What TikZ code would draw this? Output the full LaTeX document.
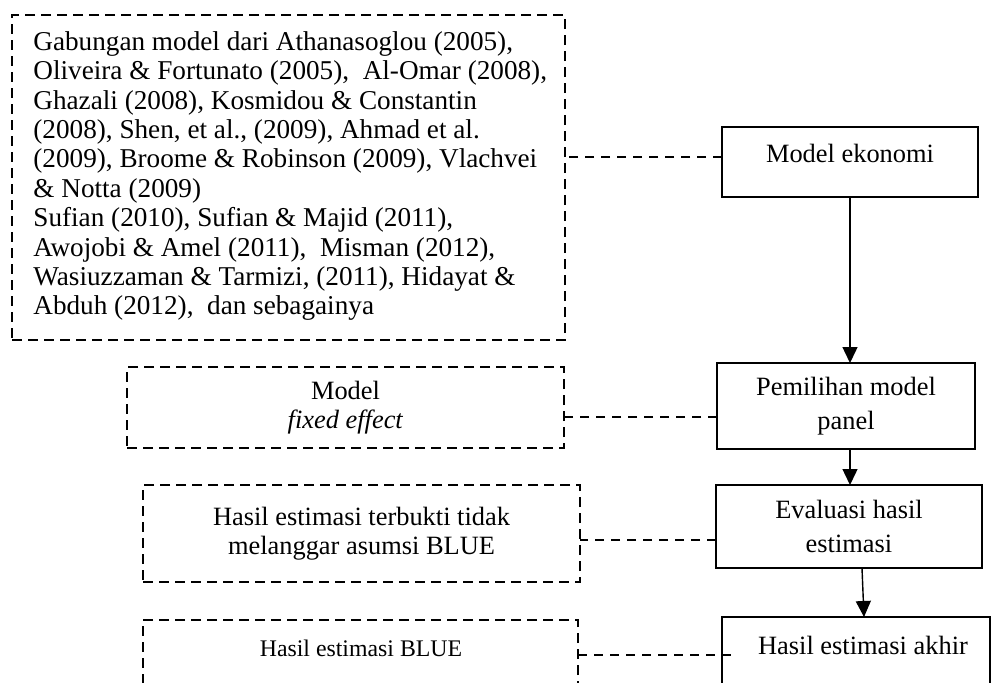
\documentclass[tikz,border=0pt]{standalone}
\usepackage{fontspec}
\setmainfont{Liberation Serif}
\usetikzlibrary{arrows.meta}

\begin{document}
\begin{tikzpicture}[
   x=0.5pt,y=-0.5pt,
   font=\fontsize{13.2}{14.7}\selectfont,
   box/.style={draw,line width=0.7pt,inner sep=0pt,outer sep=0pt,align=center,
      font=\fontsize{13.2}{17.3}\selectfont},
   note/.style={draw,line width=1.3pt,dash pattern=on 5pt off 3pt,inner sep=0pt,outer sep=0pt,
      align=center,font=\fontsize{13.2}{14.8}\selectfont},
   to/.style={-{Triangle[length=8pt,width=7.5pt]},line width=0.7pt},
   link/.style={line width=0.7pt,dash pattern=on 4.5pt off 3.5pt}]
\useasboundingbox (0,0) rectangle (997,682);
\clip (0,0) rectangle (997,682);
% left column: notes
\node[note,minimum width=276.5pt,minimum height=162.5pt] (LIT) at (288.5,177.5) {};
\node[anchor=north west,align=left,inner sep=0pt,font=\fontsize{13.6}{14.7}\selectfont] (LITtext) at (33,31) {Gabungan model dari Athanasoglou (2005),\\
Oliveira \& Fortunato (2005),\ \ Al-Omar (2008),\\
Ghazali (2008), Kosmidou \& Constantin\\
(2008), Shen, et al., (2009), Ahmad et al.\\
(2009), Broome \& Robinson (2009), Vlachvei\\
\& Notta (2009)\\
Sufian (2010), Sufian \& Majid (2011),\\
Awojobi \& Amel (2011),\ \ Misman (2012),\\
Wasiuzzaman \& Tarmizi, (2011), Hidayat \&\\
Abduh (2012),\ \ dan sebagainya};
\node[note,minimum width=218.5pt,minimum height=40.5pt] (FE) at (345.5,407.5) {Model\\\textit{fixed effect}};
\node[note,minimum width=218.5pt,minimum height=48.5pt] (TTB) at (361.5,533.5) {Hasil estimasi terbukti tidak\\melanggar asumsi BLUE};
\node[note,minimum width=217.5pt,minimum height=50pt] (BLUE) at (360.5,670) {};
\node[font=\fontsize{11.9}{14}\selectfont] (BLUEtext) at (361,648) {Hasil estimasi BLUE};
% right column: steps
\node[box,minimum width=128pt,minimum height=35pt] (ME) at (850,162) {};
\node (MEtext) at (850,153) {Model ekonomi};
\node[box,minimum width=129pt,minimum height=43pt] (PMP) at (846,406) {Pemilihan model\\panel};
\node[box,minimum width=133pt,minimum height=41.5pt] (EHE) at (849,526.5) {Evaluasi hasil\\estimasi};
\node[box,minimum width=134pt,minimum height=51.5pt] (HEA) at (856,668.5) {};
\node (HEAtext) at (863,645) {Hasil estimasi akhir};
% flow
\draw[to] (ME.south) -- (ME.south |- PMP.north);
\draw[to] (PMP.south -| ME) -- (EHE.north -| ME);
\draw[to] ([xshift=6.5pt]EHE.south) -- ([xshift=4pt]HEA.north);
% dashed links
\draw[link] ([yshift=2.5pt]ME.west) -- ([yshift=2.5pt]ME.west -| LIT.east);
\draw[link] ([yshift=-5.5pt]PMP.west) -- ([yshift=-5.5pt]PMP.west -| FE.east);
\draw[link] ([yshift=-6.75pt]EHE.west) -- ([yshift=-6.75pt]EHE.west -| TTB.east);
\draw[link] ([yshift=7.5pt]BLUE.east) -- ([yshift=7.5pt,xshift=5.5pt]BLUE.east -| HEA.west);
\end{tikzpicture}
\end{document}
